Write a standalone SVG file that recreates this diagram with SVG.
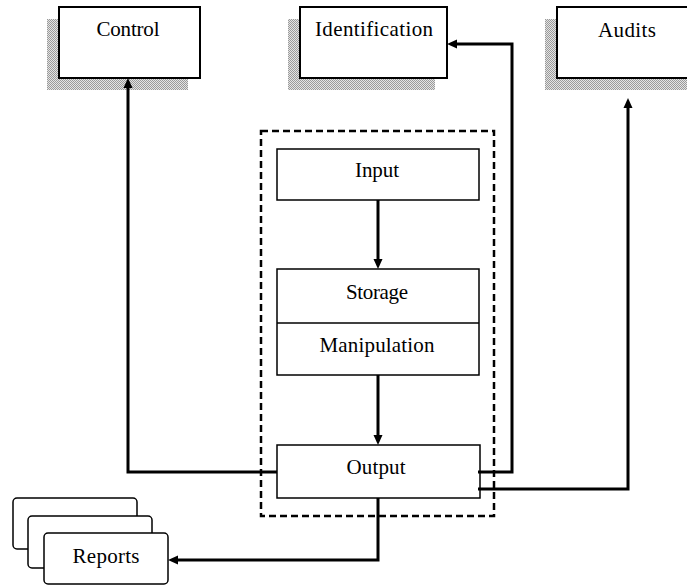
<svg xmlns="http://www.w3.org/2000/svg" width="687" height="585" viewBox="0 0 687 585">
  <style>
    .box { fill: #fff; stroke: #000; stroke-width: 2; }
    .inner { fill: #fff; stroke: #000; stroke-width: 1.5; }
    .card { fill: #fff; stroke: #000; stroke-width: 1.5; }
    .shadow { fill: url(#stipple); stroke: none; }
    .boundary { fill: none; stroke: #000; stroke-width: 2.5; stroke-dasharray: 7 4; }
    .wire { fill: none; stroke: #000; stroke-width: 3; stroke-linejoin: miter; marker-end: url(#arrow); }
    text { font-family: "Liberation Serif", "Times New Roman", serif; font-size: 21px; fill: #000; text-anchor: middle; }
  </style>
  <defs>
    <pattern id="stipple" width="2" height="2" patternUnits="userSpaceOnUse">
      <rect width="2" height="2" fill="#e4e4e4"/>
      <rect x="0" y="0" width="1" height="1" fill="#9a9a9a"/>
      <rect x="1" y="1" width="1" height="1" fill="#9a9a9a"/>
    </pattern>
    <marker id="arrow" viewBox="0 0 10 10" markerWidth="10" markerHeight="10" refX="0" refY="5" orient="auto" markerUnits="userSpaceOnUse">
      <path d="M0,0.5 L10,5 L0,9.5 z" fill="#000"/>
    </marker>
  </defs>

  <rect width="687" height="585" fill="#fff"/>

  <!-- top row: external functions with drop shadows -->
  <g id="control">
    <rect class="shadow" x="47" y="19" width="141" height="71"/>
    <rect class="box" x="59" y="7" width="141" height="71"/>
    <text x="128" y="36" textLength="63" lengthAdjust="spacing">Control</text>
  </g>
  <g id="identification">
    <rect class="shadow" x="288" y="19" width="147" height="71"/>
    <rect class="box" x="300" y="7" width="147" height="71"/>
    <text x="374" y="36" textLength="118" lengthAdjust="spacing">Identification</text>
  </g>
  <g id="audits">
    <rect class="shadow" x="545" y="19" width="150" height="71"/>
    <rect class="box" x="557" y="7" width="150" height="71"/>
    <text x="627" y="37" textLength="58" lengthAdjust="spacing">Audits</text>
  </g>

  <!-- processing boundary -->
  <g id="system-boundary">
    <rect class="boundary" x="261" y="131" width="233" height="385"/>
  </g>

  <g id="input">
    <rect class="inner" x="277" y="149" width="202" height="51"/>
    <text x="377" y="177" textLength="44" lengthAdjust="spacing">Input</text>
  </g>
  <g id="storage-manipulation">
    <rect class="inner" x="277" y="269" width="202" height="106"/>
    <line x1="277" y1="323" x2="479" y2="323" stroke="#000" stroke-width="1.5"/>
    <text x="377" y="299" textLength="62" lengthAdjust="spacing">Storage</text>
    <text x="377" y="352" textLength="115" lengthAdjust="spacing">Manipulation</text>
  </g>
  <g id="output">
    <rect class="inner" x="277" y="445" width="203" height="53"/>
    <text x="376" y="474" textLength="59" lengthAdjust="spacing">Output</text>
  </g>

  <!-- stacked report documents -->
  <g id="reports">
    <rect class="card" x="13" y="498" width="124" height="51" rx="4"/>
    <rect class="card" x="28" y="516" width="124" height="52" rx="4"/>
    <rect class="card" x="44" y="533" width="124" height="51" rx="4"/>
    <text x="106" y="563" textLength="67" lengthAdjust="spacing">Reports</text>
  </g>

  <g id="connectors">
    <path class="wire" d="M378,200 V259"/>
    <path class="wire" d="M378,375 V435"/>
    <path class="wire" d="M277,472 H128 V88"/>
    <path class="wire" d="M478,472 H512 V44 H457"/>
    <path class="wire" d="M478,489 H628 V108"/>
    <path class="wire" d="M378,498 V560 H178"/>
  </g>
</svg>
